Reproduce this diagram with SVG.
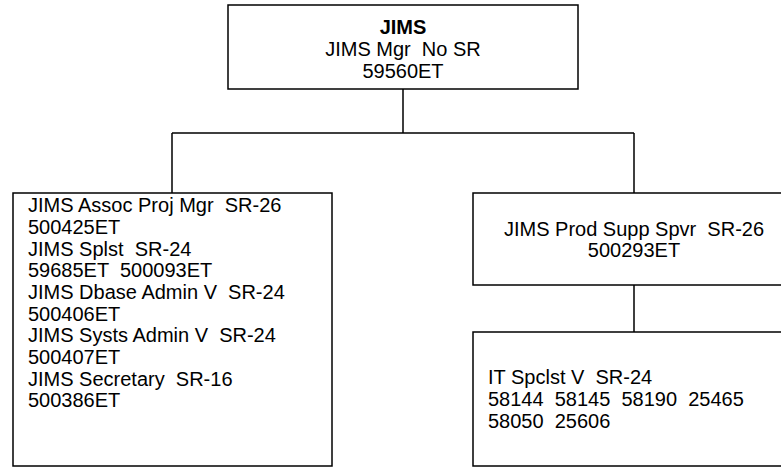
<svg xmlns="http://www.w3.org/2000/svg" width="781" height="471" viewBox="0 0 781 471">
<style>
.box{fill:#fff;stroke:#000;stroke-width:1.5}
.con{fill:none;stroke:#000;stroke-width:1.5}
text{font-family:"Liberation Sans",Arial,sans-serif;font-size:20px;fill:#000}
.c{text-anchor:middle}
.b{font-weight:bold}
</style>
<rect width="781" height="471" fill="#fff"/>
<g id="connectors">
<path class="con" d="M403,89 V133 M172,133 H634 M172,133 V193 M634,133 V193 M634,285 V332"/>
</g>
<g id="jims">
<rect class="box" x="228" y="5" width="350" height="84"/>
<text class="c b" x="403" y="34">JIMS</text>
<text class="c" x="403" y="56" xml:space="preserve">JIMS Mgr  No SR</text>
<text class="c" x="403" y="78">59560ET</text>
</g>
<g id="assoc">
<rect class="box" x="13" y="193" width="319" height="273"/>
<text x="28" y="212" xml:space="preserve">JIMS Assoc Proj Mgr  SR-26</text>
<text x="28" y="234">500425ET</text>
<text x="28" y="256" xml:space="preserve">JIMS Splst  SR-24</text>
<text x="28" y="277" xml:space="preserve">59685ET  500093ET</text>
<text x="28" y="299" xml:space="preserve">JIMS Dbase Admin V  SR-24</text>
<text x="28" y="321">500406ET</text>
<text x="28" y="342" xml:space="preserve">JIMS Systs Admin V  SR-24</text>
<text x="28" y="364">500407ET</text>
<text x="28" y="386" xml:space="preserve">JIMS Secretary  SR-16</text>
<text x="28" y="407">500386ET</text>
</g>
<g id="prodsupp">
<rect class="box" x="473" y="193" width="330" height="92"/>
<text class="c" x="634" y="236" xml:space="preserve">JIMS Prod Supp Spvr  SR-26</text>
<text class="c" x="634" y="257">500293ET</text>
</g>
<g id="itspclst">
<rect class="box" x="473" y="332" width="330" height="134"/>
<text x="488" y="384" xml:space="preserve">IT Spclst V  SR-24</text>
<text x="488" y="406" xml:space="preserve">58144  58145  58190  25465</text>
<text x="488" y="428" xml:space="preserve">58050  25606</text>
</g>
</svg>
